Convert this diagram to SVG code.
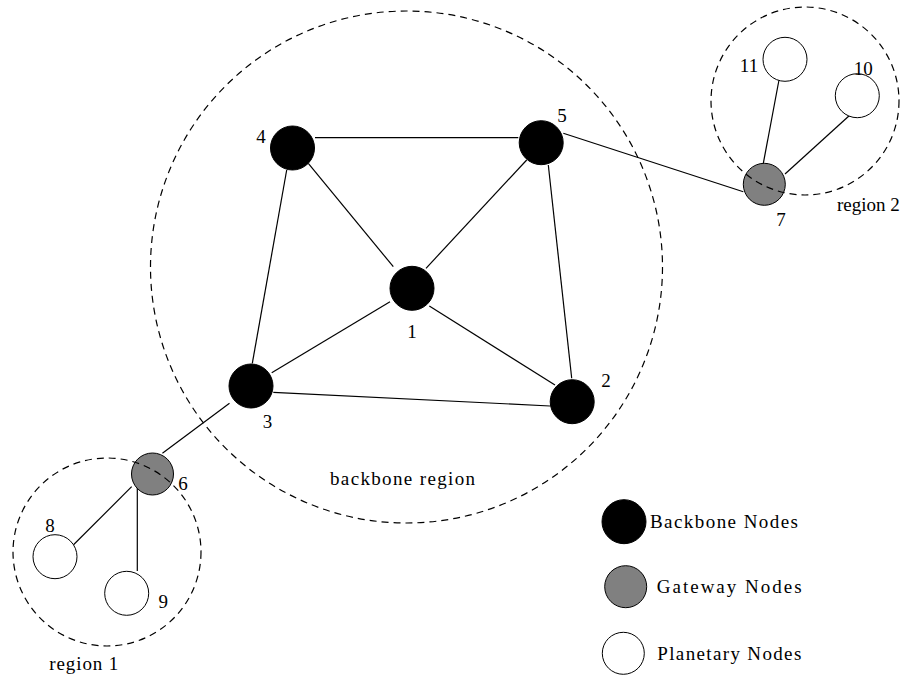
<svg xmlns="http://www.w3.org/2000/svg" width="910" height="677" viewBox="0 0 910 677">
<style>
.edge{stroke:#000;stroke-width:1.2;fill:none}
.region{fill:none;stroke:#000;stroke-width:1.2;stroke-dasharray:7 5}
.bb{fill:#000;stroke:#000;stroke-width:1}
.gw{fill:#808080;stroke:#000;stroke-width:1}
.pl{fill:#fff;stroke:#000;stroke-width:1}
text{font-family:"Liberation Serif","Times New Roman",serif;font-size:19px;fill:#000}
.num{text-anchor:middle}
</style>
<rect width="910" height="677" fill="#fff"/>
<g id="connectors">
<line class="edge" x1="315" y1="137.7" x2="518.3" y2="137.7"/>
<line class="edge" x1="308.3" y1="163.3" x2="393.3" y2="266.7"/>
<line class="edge" x1="286.7" y1="170" x2="252.3" y2="363.3"/>
<line class="edge" x1="526.7" y1="160" x2="426" y2="268.3"/>
<line class="edge" x1="548.3" y1="165" x2="571.7" y2="378.3"/>
<line class="edge" x1="390" y1="301.7" x2="271.7" y2="372.7"/>
<line class="edge" x1="429.3" y1="306" x2="555" y2="385"/>
<line class="edge" x1="273.3" y1="392.3" x2="550" y2="406"/>
<line class="edge" x1="563.3" y1="133.3" x2="743.3" y2="191.7"/>
<line class="edge" x1="229.5" y1="403.3" x2="162.4" y2="453.3"/>
<line class="edge" x1="131.7" y1="486.7" x2="73.3" y2="545"/>
<line class="edge" x1="137.3" y1="487" x2="137.3" y2="571"/>
<line class="edge" x1="763.3" y1="163.3" x2="779" y2="80"/>
<line class="edge" x1="785" y1="174" x2="850" y2="115"/>
</g>
<g id="node1"><circle class="bb" cx="412" cy="288.3" r="22"/><text class="num" x="412" y="338">1</text></g>
<g id="node2"><circle class="bb" cx="572.2" cy="401.7" r="22"/><text class="num" x="606" y="387">2</text></g>
<g id="node3"><circle class="bb" cx="251" cy="386" r="22"/><text class="num" x="267.5" y="427.5">3</text></g>
<g id="node4"><circle class="bb" cx="292.5" cy="148" r="22"/><text class="num" x="261" y="143">4</text></g>
<g id="node5"><circle class="bb" cx="541.2" cy="142.7" r="22"/><text class="num" x="562" y="122">5</text></g>
<g id="node6"><circle class="gw" cx="152.5" cy="474" r="21"/><text class="num" x="183" y="490">6</text></g>
<g id="node7"><circle class="gw" cx="764.3" cy="184.3" r="21"/><text class="num" x="781" y="226">7</text></g>
<g id="node8"><circle class="pl" cx="55" cy="556.7" r="22"/><text class="num" x="50" y="532">8</text></g>
<g id="node9"><circle class="pl" cx="126.7" cy="593.3" r="22"/><text class="num" x="163.3" y="608">9</text></g>
<g id="node10"><circle class="pl" cx="857.3" cy="95.7" r="22"/><text class="num" x="863.3" y="75">10</text></g>
<g id="node11"><circle class="pl" cx="785" cy="59.3" r="22"/><text class="num" x="749" y="71.5">11</text></g>
<g id="regions">
<circle class="region" cx="406.5" cy="267" r="256"/>
<circle class="region" cx="107" cy="552" r="94"/>
<circle class="region" cx="805" cy="101" r="94"/>
<text x="330" y="485" textLength="145" lengthAdjust="spacing">backbone region</text>
<text x="49.3" y="670" textLength="69" lengthAdjust="spacing">region 1</text>
<text x="837" y="211">region 2</text>
</g>
<g id="legend">
<circle class="bb" cx="624" cy="521.7" r="22"/>
<text x="650" y="528.3" textLength="148" lengthAdjust="spacing">Backbone Nodes</text>
<circle class="gw" cx="625.7" cy="586.7" r="21"/>
<text x="656.7" y="593.3" textLength="145" lengthAdjust="spacing">Gateway Nodes</text>
<circle class="pl" cx="623.3" cy="653.3" r="21"/>
<text x="657.3" y="660" textLength="144" lengthAdjust="spacing">Planetary Nodes</text>
</g>
</svg>
